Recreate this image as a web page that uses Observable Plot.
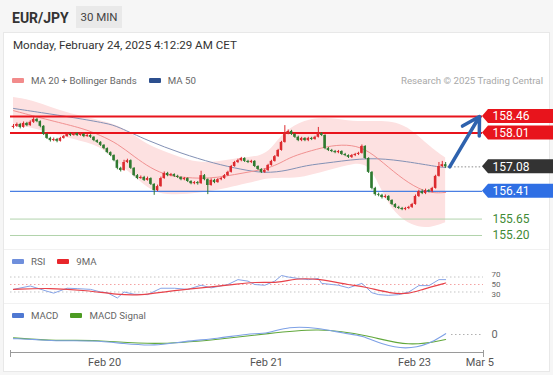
<!DOCTYPE html>
<html><head><meta charset="utf-8">
<script src="https://cdn.jsdelivr.net/npm/d3@7"></script>
<script src="https://cdn.jsdelivr.net/npm/@observablehq/plot@0.6"></script>
<style>
html,body{margin:0;padding:0;}
body{width:553px;height:375px;overflow:hidden;background:#f6f6f6;font-family:Roboto,"Liberation Sans",Arial,sans-serif;position:relative;}
#card{position:absolute;left:3px;top:32px;width:547px;height:340px;background:#fff;border:1px solid #e8e8e8;box-sizing:border-box;}
.abs{position:absolute;}
#title{left:12px;top:10px;font-weight:bold;font-size:14px;color:#333;}
#badge{left:76px;top:6px;width:46px;height:22px;background:#e9e9e9;font-size:11.5px;color:#444;line-height:22px;text-align:center;}
#date{left:13px;top:38px;font-size:11.6px;color:#333;}
.leg{position:absolute;font-size:9.7px;color:#666;display:flex;align-items:center;white-space:nowrap;}
.sw{display:inline-block;width:12px;height:5px;border-radius:1px;margin-right:7px;}
#credit{position:absolute;right:10px;top:75px;font-size:9.7px;color:#a8a8a8;}
.panel{position:absolute;left:0;}
.sep{position:absolute;left:4px;width:545px;height:1px;background:#f1f1f1;}
</style>
</head><body>
<div id="card"></div>
<div id="title" class="abs">EUR/JPY</div>
<div id="badge" class="abs">30 MIN</div>
<div id="date" class="abs">Monday, February 24, 2025 4:12:29 AM CET</div>

<div class="leg" style="left:12px;top:75px;"><span class="sw" style="background:#f28b8b"></span>MA 20 + Bollinger Bands<span class="sw" style="background:#2c4f8e;margin-left:12px"></span>MA 50</div>
<div id="credit">Research © 2025 Trading Central</div>
<div id="main" class="panel" style="top:95px"></div>

<div class="sep" style="top:249px"></div>
<div class="leg" style="left:12px;top:256px;"><span class="sw" style="background:#6f8fdc"></span>RSI<span class="sw" style="background:#e8262b;margin-left:12px"></span>9MA</div>
<div id="rsi" class="panel" style="top:268px"></div>

<div class="sep" style="top:303px"></div>
<div class="leg" style="left:12px;top:310px;"><span class="sw" style="background:#4f78d2"></span>MACD<span class="sw" style="background:#4c9b22;margin-left:12px"></span>MACD Signal</div>
<div id="macd" class="panel" style="top:320px"></div>

<script>
// ---------- data (30-min candles, EUR/JPY) ----------
const firstOpen = 158.16;
const closes = [
158.19,158.24,158.16,158.27,158.21,158.30,158.38,158.32,158.19,157.97,
157.86,157.80,157.83,157.78,157.86,157.91,157.97,157.94,157.99,157.94,
157.97,157.91,157.94,157.89,157.80,157.75,157.67,157.58,157.47,157.39,
157.25,157.04,156.98,157.20,157.25,157.04,156.84,156.76,156.79,156.71,
156.76,156.60,156.43,156.54,156.76,156.90,156.84,156.87,156.82,156.79,
156.73,156.76,156.68,156.62,156.65,156.62,156.84,156.73,156.57,156.71,
156.65,156.73,156.76,156.84,156.93,157.09,157.20,157.25,157.31,157.23,
157.20,157.23,157.09,157.01,156.93,156.98,157.12,157.23,157.36,157.53,
157.75,157.99,158.05,157.97,157.89,157.80,157.86,157.80,157.86,157.83,
157.89,157.99,157.94,157.58,157.53,157.50,157.47,157.50,157.42,157.39,
157.34,157.39,157.42,157.45,157.64,157.31,156.93,156.49,156.32,156.30,
156.24,156.27,156.16,156.05,155.97,155.94,155.91,155.94,155.97,156.05,
156.27,156.40,156.35,156.43,156.40,156.49,156.82,157.09,157.14,157.08];
const highs = [
158.24,158.28,158.27,158.31,158.30,158.34,158.43,158.41,158.34,158.21,
157.99,157.89,157.87,157.86,157.89,157.94,158.00,158.00,158.02,158.01,
158.00,157.99,157.97,157.96,157.91,157.82,157.77,157.69,157.60,157.49,
157.41,157.27,157.07,157.26,157.29,157.27,157.06,156.87,156.83,156.82,
156.80,156.78,156.62,156.58,156.80,156.94,156.93,156.90,156.89,156.85,
156.81,156.79,156.78,156.70,156.68,156.68,156.96,156.87,156.75,156.75,
156.74,156.76,156.79,156.87,156.96,157.12,157.23,157.29,157.34,157.33,
157.26,157.26,157.25,157.11,157.03,157.02,157.15,157.26,157.39,157.56,
157.78,158.21,158.09,158.08,157.99,157.92,157.89,157.88,157.89,157.89,
157.92,158.16,158.02,157.96,157.61,157.56,157.53,157.53,157.52,157.45,
157.41,157.42,157.45,157.48,157.68,157.66,157.33,156.95,156.52,156.36,
156.33,156.31,156.29,156.18,156.07,156.00,155.97,155.97,156.00,156.08,
156.31,156.44,156.45,156.47,156.46,156.52,156.85,157.20,157.23,157.20];
const lows = [
158.12,158.16,158.12,158.14,158.18,158.19,158.27,158.29,158.15,157.94,
157.83,157.76,157.77,157.74,157.76,157.84,157.89,157.91,157.92,157.91,
157.92,157.88,157.89,157.86,157.77,157.72,157.64,157.55,157.44,157.36,
157.22,157.00,156.94,156.96,157.17,157.01,156.81,156.73,156.74,156.68,
156.69,156.57,156.30,156.40,156.52,156.74,156.81,156.81,156.79,156.76,
156.70,156.70,156.65,156.59,156.59,156.58,156.60,156.70,156.32,156.55,
156.62,156.63,156.70,156.74,156.82,156.91,157.07,157.17,157.22,157.20,
157.17,157.17,157.06,156.98,156.90,156.90,156.95,157.10,157.21,157.34,
157.51,157.73,157.96,157.94,157.86,157.77,157.77,157.77,157.77,157.80,
157.81,157.87,157.91,157.55,157.50,157.47,157.44,157.44,157.39,157.36,
157.31,157.31,157.36,157.39,157.43,157.28,156.90,156.45,156.28,156.26,
156.20,156.21,156.13,156.02,155.94,155.91,155.88,155.88,155.91,155.94,
156.03,156.24,156.32,156.32,156.37,156.37,156.47,156.80,157.06,157.04];

// moving averages & Bollinger bands (read at candle indices)
const ma20Idx = [0,11,21,26,31,36,41,46,51,56,61,66,71,76,80,83,89,95,101,106,112,118,124,129];
const ma20Val = [158.62,158.35,158.13,157.94,157.72,157.36,157.04,156.84,156.79,156.76,156.79,156.87,156.95,157.04,157.20,157.36,157.53,157.67,157.69,157.53,157.06,156.62,156.35,156.38];
const ma50Idx = [0,8,18,28,31,40,50,60,68,75,82,87,95,106,116,126,129];
const ma50Val = [158.68,158.57,158.43,158.27,158.19,157.80,157.45,157.17,157.01,156.90,156.98,157.12,157.20,157.34,157.25,157.09,157.06];
const bbIdx   = [0,6,16,26,31,36,41,46,52,58,64,70,74,77,81,87,93,100,106,110,114,119,124,129];
const bbUpper = [158.98,158.90,158.54,158.35,158.22,157.95,157.63,157.47,157.25,157.17,157.27,157.33,157.38,157.55,158.05,158.36,158.43,158.33,158.32,158.33,158.30,158.10,157.65,157.32];
const bbLower = [158.21,158.15,157.86,157.67,157.20,156.83,156.42,156.30,156.32,156.38,156.49,156.62,156.72,156.76,156.76,156.79,156.95,157.12,157.22,156.40,155.78,155.46,155.38,155.55];

// key levels
const resistanceLevels = [158.46, 158.01];
const lastPrice = 157.08;
const pivotLevel = 156.41;
const supportLevels = [155.65, 155.20];

// RSI panel
const rsiIdx = [0,5,10,12,16,19,23,26,28,31,33,36,40,44,48,52,56,59,64,67,70,72,75,78,80,82,85,88,91,92,97,100,104,107,109,112,115,118,121,124,127,129];
const rsiVal = [37,46,32,27,40,39,37,30,28,14,30,24,23,40,40,37,48,41,50,63,59,50,48,59,74,70,66,63,66,53,48,41,53,28,23,21,23,30,47,47,63,63];
const rsiMaIdx = [0,11,22,31,38,46,56,66,72,79,84,91,101,104,113,118,122,129];
const rsiMaVal = [37,41,34,23,21,32,41,50,57,54,66,66,47,46,25,25,37,54];
const rsiLevels = [70, 50, 30];

// MACD panel
const macdIdx = [0,7,13,24,33,42,51,61,70,76,82,91,99,104,110,117,124,129];
const macdVal = [-0.05,-0.06,-0.08,-0.07,-0.11,-0.14,-0.08,-0.05,0.01,0.01,0.10,0.08,0.01,-0.01,-0.12,-0.18,-0.12,0.01];
const sigIdx = [0,13,24,42,61,76,91,106,118,129];
const sigVal = [-0.04,-0.08,-0.06,-0.13,-0.06,0.01,0.08,-0.01,-0.15,-0.06];

// time axis
const xTickIdx = [27.2, 75.5, 119.7, 139.2];
const xTickLabels = ["Feb 20", "Feb 21", "Feb 23", "Mar 5"];

// ---------- layout helpers ----------
const W = 553, ML = 10, MR = 70;
const X0 = -0.9, X1 = 140.3;
const xPerPx = (X1 - X0) / (W - MR - ML);
const xAt = px => X0 + (px - ML) * xPerPx;
const Y0 = 154.926, Y1 = 159.035, MAIN_H = 150;
const yPerPx = (Y1 - Y0) / MAIN_H;
const FONT = "Roboto, 'Liberation Sans', Arial, sans-serif";
const baseStyle = {background: "none", overflow: "visible", fontFamily: FONT};

const candles = closes.map((c, i) => ({
  i, open: i === 0 ? firstOpen : closes[i - 1], close: c, high: highs[i], low: lows[i]
}));
candles.forEach(d => d.up = d.close >= d.open);
const UP = "#dc2a2f", DOWN = "#2f7a30";

const zip = (a, b) => a.map((x, k) => ({x, y: b[k]}));
const bb = bbIdx.map((x, k) => ({x, hi: bbUpper[k], lo: bbLower[k]}));

function tagShape(v) {
  const h = 7 * yPerPx;
  return [
    {x: xAt(482), lo: v, hi: v},
    {x: xAt(488), lo: v - h, hi: v + h},
    {x: xAt(553), lo: v - h, hi: v + h}
  ];
}
const tags = [
  ...resistanceLevels.map(v => ({v, fill: "#e8141c"})),
  {v: lastPrice, fill: "#333333"},
  {v: pivotLevel, fill: "#2f6fe4"}
];
const lastIdx = candles.length - 1;
const arrowDatum = [{x1: lastIdx + 1.2, y1: lastPrice, x2: xAt(479), y2: resistanceLevels[0]}];

const main = Plot.plot({
  width: W, height: MAIN_H, marginLeft: ML, marginRight: MR, marginTop: 0, marginBottom: 0,
  x: {domain: [X0, X1], axis: null},
  y: {domain: [Y0, Y1], axis: null},
  style: baseStyle,
  marks: [
    Plot.areaY(bb, {x: "x", y1: "lo", y2: "hi", fill: "#fde1e1", curve: "basis"}),
    Plot.ruleY(supportLevels, {x1: () => X0, x2: () => xAt(482), stroke: "#b2d3ac", strokeWidth: 1}),
    Plot.line(zip(ma50Idx, ma50Val), {x: "x", y: "y", stroke: "#8391b5", strokeWidth: 1, curve: "basis"}),
    Plot.line(zip(ma20Idx, ma20Val), {x: "x", y: "y", stroke: "#f19191", strokeWidth: 1, curve: "basis"}),
    Plot.ruleY([pivotLevel], {x1: () => X0, x2: () => xAt(482), stroke: "#4a7fe3", strokeWidth: 1.3}),
    Plot.ruleY(resistanceLevels, {x1: () => X0, x2: () => xAt(482), stroke: "#e8141c", strokeWidth: 2}),
    Plot.ruleY([lastPrice], {x1: () => lastIdx + 0.6, x2: () => xAt(482), stroke: "#8a8a8a", strokeWidth: 1, strokeDasharray: "1.5,2"}),
    Plot.ruleX(candles, {x: "i", y1: "low", y2: "high", stroke: d => d.up ? UP : DOWN, strokeWidth: 1}),
    Plot.rect(candles, {x1: d => d.i - 0.38, x2: d => d.i + 0.38, y1: "open", y2: "close", fill: d => d.up ? UP : DOWN}),
    Plot.arrow(arrowDatum, {x1: "x1", y1: "y1", x2: "x2", y2: "y2", stroke: "#2e62ae", strokeWidth: 3.5, headLength: 12, headAngle: 60}),
    ...tags.map(t => Plot.areaY(tagShape(t.v), {x: "x", y1: "lo", y2: "hi", fill: t.fill})),
    Plot.text(tags, {x: () => xAt(492), y: "v", text: d => d.v.toFixed(2), fill: "white", textAnchor: "start", fontSize: 12}),
    Plot.text(supportLevels, {x: () => xAt(492), y: d => d, text: d => d.toFixed(2), fill: "#3f8a36", textAnchor: "start", fontSize: 12})
  ]
});
document.getElementById("main").appendChild(main);

const rsi = Plot.plot({
  width: W, height: 32, marginLeft: ML, marginRight: MR, marginTop: 0, marginBottom: 0,
  x: {domain: [X0, X1], axis: null},
  y: {domain: [7.3, 92.7], axis: null},
  style: baseStyle,
  marks: [
    Plot.ruleY([70, 30], {stroke: "#c4c4c4", strokeDasharray: "1.5,2.5"}),
    Plot.ruleY([50], {stroke: "#f4a3a3", strokeDasharray: "1.5,2.5"}),
    Plot.line(zip(rsiIdx, rsiVal), {x: "x", y: "y", stroke: "#86a3e6", strokeWidth: 1}),
    Plot.line(zip(rsiMaIdx, rsiMaVal), {x: "x", y: "y", stroke: "#e8424a", strokeWidth: 1.2, curve: "basis"}),
    Plot.text([70], {x: () => xAt(491), y: d => d, dy: -2.5, text: d => String(d), fill: "#666", textAnchor: "start", fontSize: 8}),
    Plot.text([50], {x: () => xAt(491), y: d => d, text: d => String(d), fill: "#666", textAnchor: "start", fontSize: 8}),
    Plot.text([30], {x: () => xAt(491), y: d => d, dy: 2.5, text: d => String(d), fill: "#666", textAnchor: "start", fontSize: 8})
  ]
});
document.getElementById("rsi").appendChild(rsi);

const MY0 = -0.216, MY1 = 0.168;
const macd = Plot.plot({
  width: W, height: 52, marginLeft: ML, marginRight: MR, marginTop: 0, marginBottom: 20,
  x: {domain: [X0, X1], axis: null},
  y: {domain: [MY0, MY1], axis: null},
  style: baseStyle,
  marks: [
    Plot.ruleY([0], {x1: () => xAt(451), x2: () => X1, stroke: "#b0b0b0", strokeDasharray: "1.5,2.5"}),
    Plot.line(zip(sigIdx, sigVal), {x: "x", y: "y", stroke: "#62a83c", strokeWidth: 1.1, curve: "basis"}),
    Plot.line(zip(macdIdx, macdVal), {x: "x", y: "y", stroke: "#7ea1e6", strokeWidth: 1.1, curve: "basis"}),
    Plot.text([0], {x: () => xAt(491), y: d => d, text: d => String(d), fill: "#666", textAnchor: "start", fontSize: 11}),
    Plot.ruleY([MY0], {stroke: "#9a9a9a", strokeWidth: 1}),
    Plot.ruleX([X0, X1], {y1: () => MY0 + 2 * (MY1 - MY0) / 32, y2: () => MY0 - 5 * (MY1 - MY0) / 32, stroke: "#9a9a9a"}),
    Plot.text(xTickIdx.map((x, k) => ({x, label: xTickLabels[k]})), {x: "x", y: () => MY0, dy: 10, text: "label", fill: "#555", fontSize: 11})
  ]
});
document.getElementById("macd").appendChild(macd);
</script>
</body></html>
